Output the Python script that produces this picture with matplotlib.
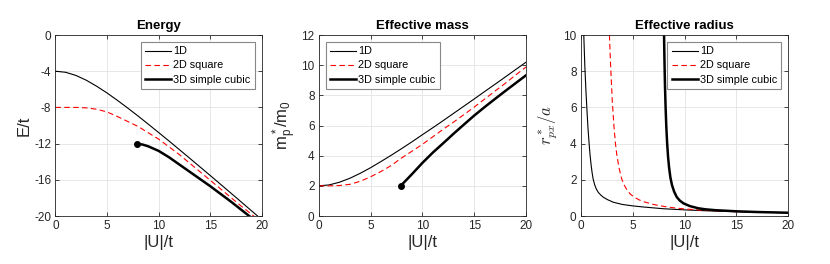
import numpy as np
import matplotlib
matplotlib.use('Agg')
import matplotlib.pyplot as plt

plt.rcParams['font.family'] = ['Liberation Sans', 'DejaVu Sans']
plt.rcParams['mathtext.fontset'] = 'cm'
plt.rcParams['axes.unicode_minus'] = False

# Energy E/t vs |U|/t
u_e_1d = [0, 1, 2, 3, 4, 5, 6, 7, 8, 9, 10, 11, 12, 13, 14, 15, 16, 17, 18, 19, 20]
e_1d = [-4.00, -4.12, -4.47, -5.00, -5.66, -6.40, -7.21, -8.06, -8.94, -9.85, -10.77,
        -11.70, -12.65, -13.60, -14.56, -15.52, -16.49, -17.46, -18.44, -19.42, -20.40]
u_e_2d = [0, 1, 2, 3, 4, 5, 6, 7, 8, 9, 10, 11, 12, 13, 14, 15, 16, 17, 18, 19, 20]
e_2d = [-8.00, -8.00, -8.00, -8.05, -8.20, -8.50, -9.00, -9.55, -10.10, -10.80, -11.50,
        -12.35, -13.20, -14.15, -15.10, -16.05, -17.00, -17.95, -18.90, -19.80, -20.75]
u_e_3d = [7.9, 8.0, 8.5, 9.0, 9.5, 10, 11, 12, 13, 14, 15, 16, 17, 18, 19]
e_3d = [-12.00, -12.01, -12.12, -12.30, -12.55, -12.80, -13.50, -14.30, -15.10, -15.90,
        -16.70, -17.55, -18.40, -19.30, -20.20]

# Effective mass m*/m0 vs |U|/t
u_m_1d = [0, 1, 2, 3, 4, 5, 6, 7, 8, 9, 10, 11, 12, 13, 14, 15, 16, 17, 18, 19, 20]
m_1d = [2.00, 2.06, 2.24, 2.50, 2.83, 3.20, 3.61, 4.03, 4.47, 4.92, 5.39, 5.85, 6.32,
        6.80, 7.28, 7.76, 8.25, 8.73, 9.22, 9.71, 10.20]
u_m_2d = [0, 1, 2, 3, 4, 5, 6, 7, 8, 9, 10, 11, 12, 13, 14, 15, 16, 17, 18, 19, 20]
m_2d = [2.00, 2.00, 2.02, 2.10, 2.30, 2.60, 2.95, 3.35, 3.85, 4.30, 4.75, 5.25, 5.75,
        6.22, 6.72, 7.22, 7.75, 8.28, 8.80, 9.35, 9.88]
u_m_3d = [7.9, 8.5, 9.0, 9.5, 10, 11, 12, 13, 14, 15, 16, 17, 18, 19, 20]
m_3d = [2.00, 2.42, 2.78, 3.15, 3.52, 4.20, 4.82, 5.45, 6.06, 6.66, 7.22, 7.76, 8.29,
        8.81, 9.33]

# Effective radius r*/a vs |U|/t
u_r_1d = [0.3, 0.4, 0.5, 0.6, 0.7, 0.8, 0.9, 1.0, 1.1, 1.2, 1.35, 1.5, 1.7, 1.95, 2.2,
          2.6, 3.15, 4, 5, 6, 7, 8, 10, 12, 15, 20]
r_1d = [10.0, 8.3, 7.0, 5.9, 4.9, 4.1, 3.4, 2.85, 2.4, 2.05, 1.72, 1.5, 1.3, 1.15, 1.03,
        0.9, 0.76, 0.64, 0.56, 0.5, 0.45, 0.4, 0.34, 0.29, 0.24, 0.18]
u_r_2d = [2.77, 2.85, 2.95, 3.05, 3.2, 3.35, 3.5, 3.7, 3.95, 4.2, 4.5, 4.8, 5.2, 5.6,
          6, 7, 8, 9, 10, 12, 15, 20]
r_2d = [10.0, 8.8, 7.5, 6.3, 5.0, 4.0, 3.3, 2.65, 2.05, 1.7, 1.4, 1.2, 1.03, 0.9,
        0.8, 0.64, 0.53, 0.45, 0.39, 0.31, 0.24, 0.18]
u_r_3d = [8.03, 8.07, 8.12, 8.18, 8.25, 8.33, 8.42, 8.52, 8.65, 8.8, 9.0, 9.25, 9.55,
          9.9, 10.5, 11.3, 12, 13, 15, 17, 20]
r_3d = [10.0, 8.6, 7.2, 6.0, 4.9, 4.0, 3.25, 2.65, 2.1, 1.7, 1.35, 1.05, 0.85,
        0.7, 0.55, 0.43, 0.37, 0.32, 0.26, 0.22, 0.18]

labels = ['1D', '2D square', '3D simple cubic']
dark = '#262626'


def style_axes(ax, title, ylabel, ylim, yticks):
    ax.set_xlim(0, 20)
    ax.set_ylim(*ylim)
    ax.set_xticks([0, 5, 10, 15, 20])
    ax.set_yticks(yticks)
    ax.grid(True, color='#e3e3e3', linewidth=0.6)
    ax.set_axisbelow(True)
    ax.tick_params(direction='in', top=True, right=True, length=3, width=0.6,
                   labelsize=8.5, colors=dark, pad=3)
    for s in ax.spines.values():
        s.set_color(dark)
        s.set_linewidth(0.6)
    ax.set_title(title, fontsize=9.5, fontweight='bold', pad=4)
    ax.set_xlabel('|U|/t', fontsize=12, color=dark, labelpad=2)
    ax.set_ylabel(ylabel, fontsize=12, color=dark, labelpad=2)


def draw(ax, xs, ys, dot=False, loc='upper right'):
    ax.plot(xs[0], ys[0], color='black', linewidth=0.8, label=labels[0])
    ax.plot(xs[1], ys[1], color='red', linewidth=0.8, linestyle=(0, (5, 3)), label=labels[1])
    ax.plot(xs[2], ys[2], color='black', linewidth=1.8, label=labels[2])
    if dot:
        ax.plot(xs[2][0], ys[2][0], 'o', color='black', markersize=4)
    leg = ax.legend(loc=loc, fontsize=7.8, fancybox=False, handlelength=2.4,
                    borderpad=0.4, labelspacing=0.38, handletextpad=0.2,
                    borderaxespad=0.65)
    leg.get_frame().set_edgecolor('#888888')
    leg.get_frame().set_linewidth(0.8)
    leg.get_frame().set_alpha(1)


fig = plt.figure(figsize=(8.3, 2.64), dpi=100)
ax1 = fig.add_axes([0.0667, 0.1818, 0.2487, 0.6856])
ax2 = fig.add_axes([0.3840, 0.1818, 0.2498, 0.6856])
ax3 = fig.add_axes([0.6996, 0.1818, 0.2502, 0.6856])

draw(ax1, [u_e_1d, u_e_2d, u_e_3d], [e_1d, e_2d, e_3d], dot=True)
style_axes(ax1, 'Energy', 'E/t', (-20, 0), [-20, -16, -12, -8, -4, 0])

draw(ax2, [u_m_1d, u_m_2d, u_m_3d], [m_1d, m_2d, m_3d], dot=True, loc='upper left')
style_axes(ax2, 'Effective mass', r'$\mathregular{m_p^*/m_0}$', (0, 12), [0, 2, 4, 6, 8, 10, 12])

draw(ax3, [u_r_1d, u_r_2d, u_r_3d], [r_1d, r_2d, r_3d])
style_axes(ax3, 'Effective radius', r'$r^*_{px}/a$', (0, 10), [0, 2, 4, 6, 8, 10])

fig.savefig('out.png', dpi=100)
